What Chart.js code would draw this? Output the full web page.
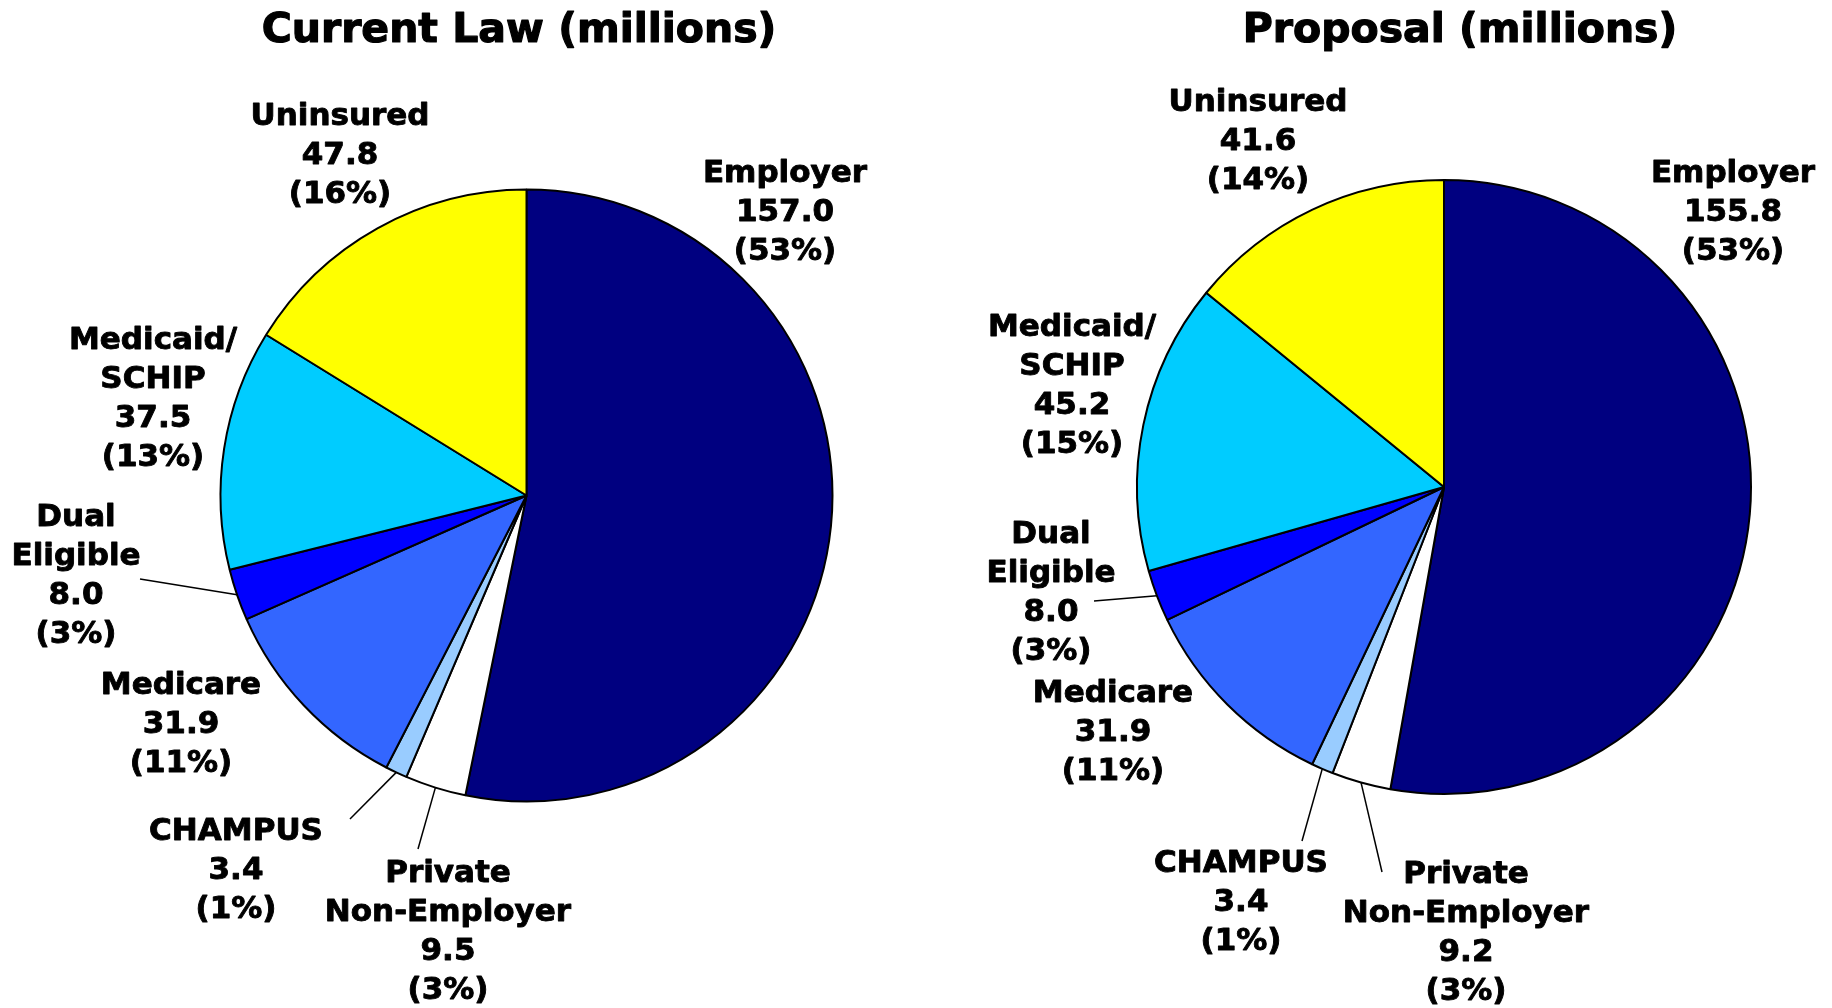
<!DOCTYPE html>
<html>
<head>
<meta charset="utf-8">
<title>Current Law vs Proposal (millions)</title>
<script src="https://cdn.jsdelivr.net/npm/chart.js@4/dist/chart.umd.min.js"></script>
<style>
  html, body { margin: 0; padding: 0; background: #fff; }
  .wrap { position: relative; width: 1832px; height: 1008px; }
  .wrap canvas { position: absolute; top: 0; }
  #cur { left: 0; }
  #prop { left: 916px; }
</style>
</head>
<body>
<div class="wrap">
  <canvas id="cur" width="916" height="1008"></canvas>
  <canvas id="prop" width="916" height="1008"></canvas>
</div>
<script>
// slices, clockwise from 12 o'clock
const categories = ['Employer', 'Private Non-Employer', 'CHAMPUS', 'Medicare', 'Dual Eligible', 'Medicaid/SCHIP', 'Uninsured'];
const labelLines = [['Employer'], ['Private', 'Non-Employer'], ['CHAMPUS'], ['Medicare'], ['Dual', 'Eligible'], ['Medicaid/', 'SCHIP'], ['Uninsured']];
const currentLaw = [157.0, 9.5, 3.4, 31.9, 8.0, 37.5, 47.8];
const proposal   = [155.8, 9.2, 3.4, 31.9, 8.0, 45.2, 41.6];
const colors = ['#000080', '#FFFFFF', '#99CCFF', '#3366FF', '#0000FF', '#00CCFF', '#FFFF00'];

// where the text blocks sit (canvas px), and where leader lines end near the text
const curLayout = {
  title: 'Current Law (millions)', titleX: 519, titleY: 31,
  pos: [[785, 174], [448, 874], [236, 832], [181, 686], [76, 518], [153, 341], [340, 117]],
  leaders: [null, [418, 849], [350, 819], null, [140, 579], null, null],
};
const propLayout = {
  title: 'Proposal (millions)', titleX: 544, titleY: 31,
  pos: [[817, 174], [550, 875], [325, 864], [197, 694], [135, 535], [156, 328], [342, 103]],
  leaders: [null, [466, 872], [386, 841], null, [178, 601], null, null],
};

function boldText(ctx, t, x, y) {
  ctx.fillText(t, x, y);
  ctx.strokeText(t, x, y);
}

function labelPlugin(L) {
  return {
    id: 'pieLabels',
    afterDatasetsDraw(chart) {
      const ctx = chart.ctx;
      const vals = chart.data.datasets[0].data;
      const total = vals.reduce((a, b) => a + b, 0);
      ctx.save();
      ctx.fillStyle = '#000';
      ctx.strokeStyle = '#000';
      ctx.lineJoin = 'round';
      ctx.textAlign = 'center';
      ctx.textBaseline = 'middle';
      ctx.lineWidth = 1.2;
      ctx.font = 'bold 41px "DejaVu Sans"';
      boldText(ctx, L.title, L.titleX, L.titleY);

      ctx.font = 'bold 31px "DejaVu Sans"';
      chart.getDatasetMeta(0).data.forEach((arc, i) => {
        const p = arc.getProps(['x', 'y', 'startAngle', 'endAngle', 'outerRadius'], true);
        const [lx, ly] = L.pos[i];
        const lines = [...labelLines[i], vals[i].toFixed(1), '(' + Math.round(vals[i] / total * 100) + '%)'];
        ctx.lineWidth = 0.9;
        lines.forEach((t, k) => boldText(ctx, t, lx, ly + k * 39));

        const end = L.leaders[i];
        if (end) {
          const a = (p.startAngle + p.endAngle) / 2;
          ctx.beginPath();
          ctx.moveTo(p.x + Math.cos(a) * p.outerRadius, p.y + Math.sin(a) * p.outerRadius);
          ctx.lineTo(end[0], end[1]);
          ctx.lineWidth = 1.5;
          ctx.stroke();
        }
      });
      ctx.restore();
    },
  };
}

function mkPie(id, values, layout, radius, padding) {
  return new Chart(document.getElementById(id), {
    type: 'pie',
    data: {
      labels: categories,
      datasets: [{
        data: values,
        backgroundColor: colors,
        borderColor: '#000',
        borderWidth: 2,
      }],
    },
    options: {
      responsive: false,
      animation: false,
      devicePixelRatio: 1,
      radius: radius,
      layout: { padding: padding },
      plugins: { legend: { display: false }, tooltip: { enabled: false }, title: { display: false } },
    },
    plugins: [labelPlugin(layout)],
  });
}

mkPie('cur', currentLaw, curLayout, 306, { left: 137, right: 0, top: 0, bottom: 17 });
mkPie('prop', proposal, propLayout, 307, { left: 140, right: 0, top: 0, bottom: 34 });
</script>
</body>
</html>
